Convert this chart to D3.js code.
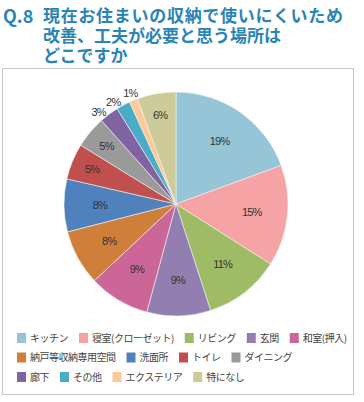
<!DOCTYPE html>
<html>
<head>
<meta charset="utf-8">
<script src="https://cdn.jsdelivr.net/npm/d3@7"></script>
<style>
  body { margin: 0; background: #fff; }
  svg { display: block; }
</style>
</head>
<body>
<svg width="364" height="402"></svg>
<script>
// data (percent)
var categories = ["キッチン", "寝室(クローゼット)", "リビング", "玄関", "和室(押入)",
                  "納戸等収納専用空間", "洗面所", "トイレ", "ダイニング",
                  "廊下", "その他", "エクステリア", "特になし"];
var values = [19.4, 14.6, 11.0, 9.2, 8.8, 8.0, 7.6, 5.2, 4.6, 2.8, 2.0, 1.2, 5.6];
var colors = ["#95c5d6", "#f5a3a4", "#9fbb65", "#937eb1", "#cc6699",
              "#d07f3a", "#4f81bd", "#c0504d", "#9a9a9a",
              "#8064a2", "#4bacc6", "#fdc997", "#cccb99"];
var titleLines = ["現在お住まいの収納で使いにくいため", "改善、工夫が必要と思う場所は", "どこですか"];
var legendRows = [[0, 1, 2, 3, 4], [5, 6, 7, 8], [9, 10, 11, 12]];

var svg = d3.select("svg"),
    cx = 176, cy = 204, radius = 112;

// title
var title = svg.append("g")
    .attr("font-family", "'Noto Sans CJK JP', sans-serif")
    .attr("font-weight", "bold")
    .attr("fill", "#2b84b5");
title.append("text")
    .attr("x", 3).attr("y", 23)
    .attr("font-size", 18)
    .text("Q.8");
title.selectAll("text.line")
    .data(titleLines)
  .enter().append("text")
    .attr("class", "line")
    .attr("x", 43)
    .attr("y", function(d, i) { return 22 + i * 20; })
    .attr("font-size", 17)
    .attr("textLength", function(d, i) { return i == 0 ? 300 : null; })
    .text(function(d) { return d; });

// frame
svg.append("rect")
    .attr("x", 2.5).attr("y", 68.5)
    .attr("width", 351).attr("height", 326)
    .attr("fill", "#fff")
    .attr("stroke", "#c8c8c8");

// pie
var pie = d3.pie().sort(null).value(function(d) { return d; });
var arc = d3.arc().innerRadius(0).outerRadius(radius);
var arcs = pie(values);

var g = svg.append("g").attr("transform", "translate(" + cx + "," + cy + ")");

g.selectAll("path")
    .data(arcs)
  .enter().append("path")
    .attr("d", arc)
    .attr("fill", function(d, i) { return colors[i]; })
    .attr("stroke", "#f4f4f4")
    .attr("stroke-width", 0.6);

function labelRadius(v) {
  if (v >= 7) return radius * 0.68;
  if (v >= 4) return radius * 0.81;
  return radius + 8;
}

g.selectAll("text")
    .data(arcs)
  .enter().append("text")
    .attr("transform", function(d) {
      var r = labelRadius(d.value),
          a = (d.startAngle + d.endAngle) / 2;
      // small outside labels nudged apart like excel's best fit
      if (d.value < 4 && d.value >= 1.5) a -= 0.06;
      return "translate(" + (Math.sin(a) * r) + "," + (-Math.cos(a) * r) + ")";
    })
    .attr("dy", "0.35em")
    .attr("text-anchor", "middle")
    .attr("font-family", "'Liberation Sans', Arial, sans-serif")
    .attr("font-size", 11)
    .attr("letter-spacing", -0.8)
    .attr("fill", "#333")
    .text(function(d) { return Math.round(d.value) + "%"; });

// legend
var legend = svg.append("g")
    .attr("font-family", "'Noto Sans CJK JP', sans-serif")
    .attr("font-size", 10)
    .attr("letter-spacing", -0.5)
    .attr("fill", "#444");

legendRows.forEach(function(row, ri) {
  var x = 17, y = 338 + ri * 19.5;
  row.forEach(function(idx) {
    legend.append("rect")
        .attr("x", x).attr("y", y - 5)
        .attr("width", 9).attr("height", 10)
        .attr("fill", colors[idx]);
    var t = legend.append("text")
        .attr("x", x + 13).attr("y", y)
        .attr("dy", "0.35em")
        .text(categories[idx]);
    var w = t.node().getComputedTextLength();
    x += 13 + w + 11;
  });
});
</script>
</body>
</html>
